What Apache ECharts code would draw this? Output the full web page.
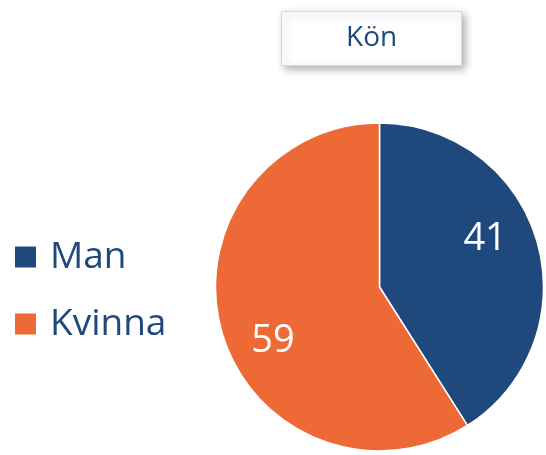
<!DOCTYPE html>
<html>
<head>
<meta charset="utf-8">
<script src="https://cdn.jsdelivr.net/npm/echarts@6/dist/echarts.min.js"></script>
<style>
  html, body { margin: 0; padding: 0; background: #fff; }
  #chart { width: 546px; height: 455px; }
</style>
</head>
<body>
<div id="chart"></div>
<script>
const titleText = 'Kön';
const categories = ['Man', 'Kvinna'];
const values = [41, 59];
const colors = ['#1f497c', '#ed6a37'];
const labelOffsets = [[24, -24], [-25, 30]];

const chart = echarts.init(document.getElementById('chart'));
const font = '"Open Sans", "Noto Sans", sans-serif';

chart.setOption({
  animation: false,
  backgroundColor: '#ffffff',
  title: {
    text: titleText,
    left: 281,
    top: 11,
    padding: [11, 65],
    backgroundColor: '#ffffff',
    borderColor: '#d9d9d9',
    borderWidth: 1,
    shadowBlur: 8,
    shadowColor: 'rgba(0,0,0,0.3)',
    shadowOffsetX: 3,
    shadowOffsetY: 3,
    textStyle: {
      fontFamily: font,
      fontSize: 28,
      fontWeight: 'normal',
      lineHeight: 33,
      color: '#1f497c'
    }
  },
  legend: {
    orient: 'vertical',
    left: 15,
    top: 237,
    padding: 0,
    icon: 'rect',
    itemWidth: 21,
    itemHeight: 21,
    itemGap: 27,
    data: categories,
    itemStyle: { borderWidth: 0 },
    textStyle: {
      fontFamily: font,
      fontSize: 37,
      lineHeight: 40,
      color: '#1f497c',
      padding: [0, 0, 0, 9]
    }
  },
  series: [{
    type: 'pie',
    center: [379.5, 287],
    radius: 164,
    startAngle: 90,
    clockwise: true,
    silent: true,
    itemStyle: { borderColor: '#ffffff', borderWidth: 1.5 },
    label: {
      show: true,
      position: 'inside',
      formatter: '{c}',
      color: '#ffffff',
      fontFamily: font,
      fontSize: 38
    },
    labelLine: { show: false },
    data: categories.map((name, i) => ({
      name: name,
      value: values[i],
      itemStyle: { color: colors[i] },
      label: { offset: labelOffsets[i] }
    }))
  }]
});
</script>
</body>
</html>
